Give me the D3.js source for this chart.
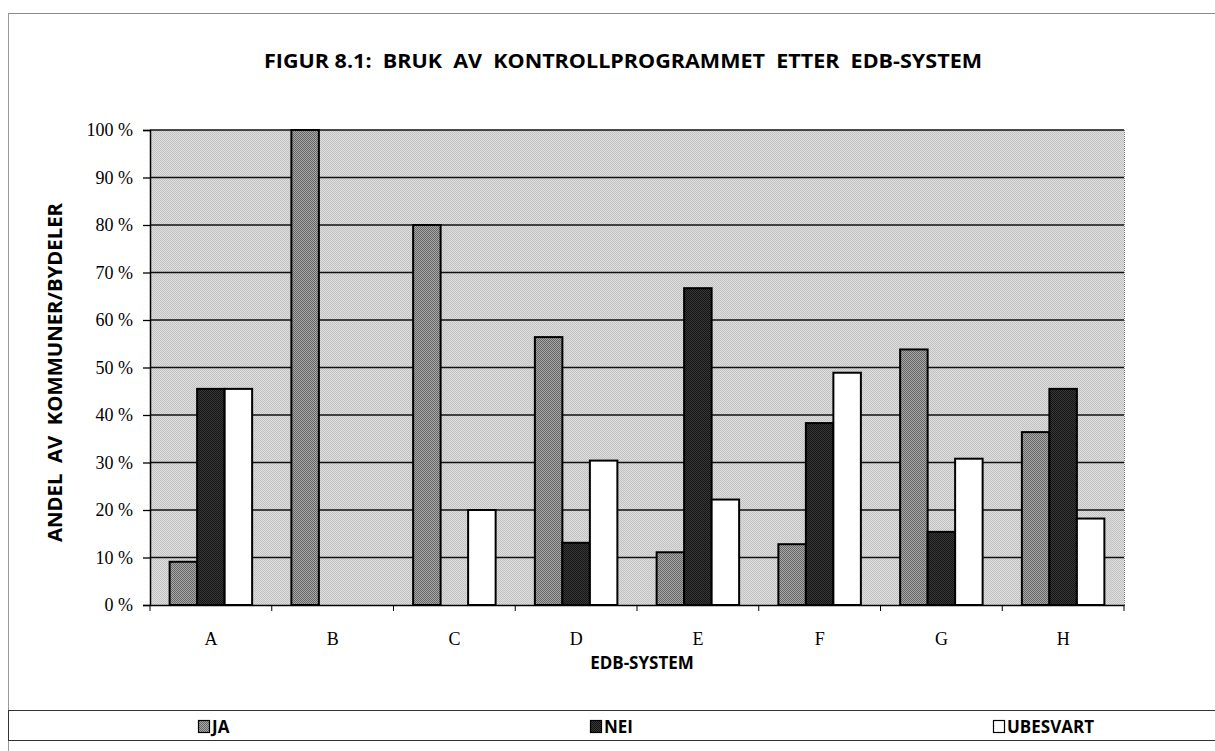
<!DOCTYPE html>
<html><head><meta charset="utf-8">
<script src="https://cdn.jsdelivr.net/npm/d3@7"></script>
<style>body{margin:0;background:#fff;} svg{display:block;}</style>
</head><body>
<svg id="chart" width="1215" height="751"></svg>
<script>
const title = "FIGUR 8.1:  BRUK  AV  KONTROLLPROGRAMMET  ETTER  EDB-SYSTEM";
const yAxisTitle = "ANDEL  AV  KOMMUNER/BYDELER";
const xAxisTitle = "EDB-SYSTEM";
const categories = ["A","B","C","D","E","F","G","H"];
const seriesNames = ["JA","NEI","UBESVART"];
const ja       = [9.1, 100, 80.0, 56.4, 11.1, 12.8, 53.8, 36.4];
const nei      = [45.5, 0, 0, 13.1, 66.7, 38.3, 15.4, 45.5];
const ubesvart = [45.5, 0, 20.0, 30.4, 22.2, 48.9, 30.8, 18.2];
const yTicks = [0,10,20,30,40,50,60,70,80,90,100];

(function(){
const svg = d3.select("#chart");
const W = 1215, H = 751;
const pL = 150, pR = 1124, pT = 130, pB = 605;
const sansC = "'Open Sans','DejaVu Sans',Arial,sans-serif";
const serif = "'Liberation Serif','Times New Roman',serif";

const defs = svg.append("defs");
function dotPattern(id, bg, fg, size){
  const p = defs.append("pattern").attr("id", id).attr("width", size).attr("height", size)
    .attr("patternUnits","userSpaceOnUse");
  p.append("rect").attr("width", size).attr("height", size).attr("fill", bg);
  p.append("rect").attr("width", 1).attr("height", 1).attr("fill", fg);
  p.append("rect").attr("x", size/2).attr("y", size/2).attr("width", 1).attr("height", 1).attr("fill", fg);
}
dotPattern("bgPat", "#dedede", "#c2c2c2", 2);
dotPattern("jaPat", "#a8a8a8", "#666666", 2);
dotPattern("neiPat", "#383838", "#151515", 2);

// outer frame
svg.append("line").attr("x1",8).attr("x2",W).attr("y1",13.5).attr("y2",13.5).attr("stroke","#888").attr("stroke-width",1);
svg.append("line").attr("x1",8.5).attr("x2",8.5).attr("y1",13).attr("y2",H).attr("stroke","#999").attr("stroke-width",1);

// title
svg.append("text").attr("x", 264).attr("y", 68)
  .attr("textLength", 718).attr("lengthAdjust","spacingAndGlyphs")
  .style("white-space","pre")
  .style("font-family", sansC).style("font-weight","bold").style("font-size","20px").text(title);

const x0 = d3.scaleBand().domain(categories).range([pL, pR]);
const groupW = x0.bandwidth();
const barW = 27.5;
const x1 = d3.scaleBand().domain(seriesNames).range([0, barW*3]);
const groupOffset = (groupW - barW*3)/2;
const y = d3.scaleLinear().domain([0,100]).range([pB, pT]);

// plot background
svg.append("rect").attr("x", pL).attr("y", pT).attr("width", pR-pL).attr("height", pB-pT)
  .attr("fill","url(#bgPat)");
svg.append("line").attr("x1", pR+0.5).attr("x2", pR+0.5).attr("y1", pT).attr("y2", pB)
  .attr("stroke","#777").attr("stroke-width",1).attr("stroke-dasharray","1,1");

// gridlines
svg.append("g").selectAll("line").data(yTicks.filter(d=>d>0)).join("line")
  .attr("x1", pL).attr("x2", pR).attr("y1", d=>y(d)).attr("y2", d=>y(d))
  .attr("stroke","#111").attr("stroke-width",1.3);

const series = [
  {name:"JA", values: ja, fill:"url(#jaPat)"},
  {name:"NEI", values: nei, fill:"url(#neiPat)"},
  {name:"UBESVART", values: ubesvart, fill:"#ffffff"}
];
const gBars = svg.append("g");
series.forEach(s => {
  gBars.append("g").selectAll("rect")
    .data(s.values.map((v,i)=>({cat:categories[i], v})).filter(d=>d.v>0)).join("rect")
    .attr("x", d => x0(d.cat) + groupOffset + x1(s.name))
    .attr("y", d => y(d.v))
    .attr("width", x1.bandwidth())
    .attr("height", d => pB - y(d.v))
    .attr("fill", s.fill).attr("stroke","#000").attr("stroke-width",2);
});

// y axis
const yAxis = d3.axisLeft(y).tickValues(yTicks).tickSize(7).tickFormat(d => d + " %");
const gy = svg.append("g").attr("transform", `translate(${pL},0)`).call(yAxis);
gy.select(".domain").attr("stroke","#000").attr("stroke-width",1.5);
gy.selectAll(".tick line").attr("stroke","#000").attr("stroke-width",1.3);
gy.selectAll("text").attr("x",-17).attr("dy","0.33em")
  .style("font-family", serif).style("font-size","18px").attr("fill","#000");

// x axis
const xAxis = d3.axisBottom(x0).tickSize(0).tickPadding(28);
const gx = svg.append("g").attr("transform", `translate(0,${pB})`).call(xAxis);
gx.select(".domain").attr("stroke","#000").attr("stroke-width",1.5);
gx.selectAll("text").style("font-family", serif).style("font-size","18px").attr("fill","#000")
  .attr("y", 40).attr("dy","0");
const bounds = categories.map(c => x0(c)).concat([pR]);
svg.append("g").selectAll("line").data(bounds).join("line")
  .attr("x1", d=>d).attr("x2", d=>d).attr("y1", pB).attr("y2", pB+6)
  .attr("stroke","#000").attr("stroke-width",1);

// axis titles
svg.append("text").attr("x", 642).attr("y", 669).attr("text-anchor","middle")
  .style("font-family", sansC).style("font-weight","bold").style("font-size","17px").text(xAxisTitle);
svg.append("text").attr("transform","translate(62,542) rotate(-90)")
  .attr("textLength", 339).attr("lengthAdjust","spacingAndGlyphs")
  .style("white-space","pre")
  .style("font-family", sansC).style("font-weight","bold").style("font-size","19px").text(yAxisTitle);

// legend
svg.append("rect").attr("x", 8.5).attr("y", 710.5).attr("width", W-8).attr("height", 30)
  .attr("fill","none").attr("stroke","#333").attr("stroke-width",1);
const legX = [198, 590, 993];
const lg = svg.append("g").selectAll("g").data(series).join("g")
  .attr("transform", (d,i) => `translate(${legX[i]},0)`);
lg.append("rect").attr("x",0.5).attr("y",720.5).attr("width",11).attr("height",12)
  .attr("fill", d=>d.fill).attr("stroke","#000").attr("stroke-width",1.2);
lg.append("text").attr("x",14).attr("y",733)
  .style("font-family", sansC).style("font-weight","bold").style("font-size","17px").text(d=>d.name);
})();
</script>
</body></html>
